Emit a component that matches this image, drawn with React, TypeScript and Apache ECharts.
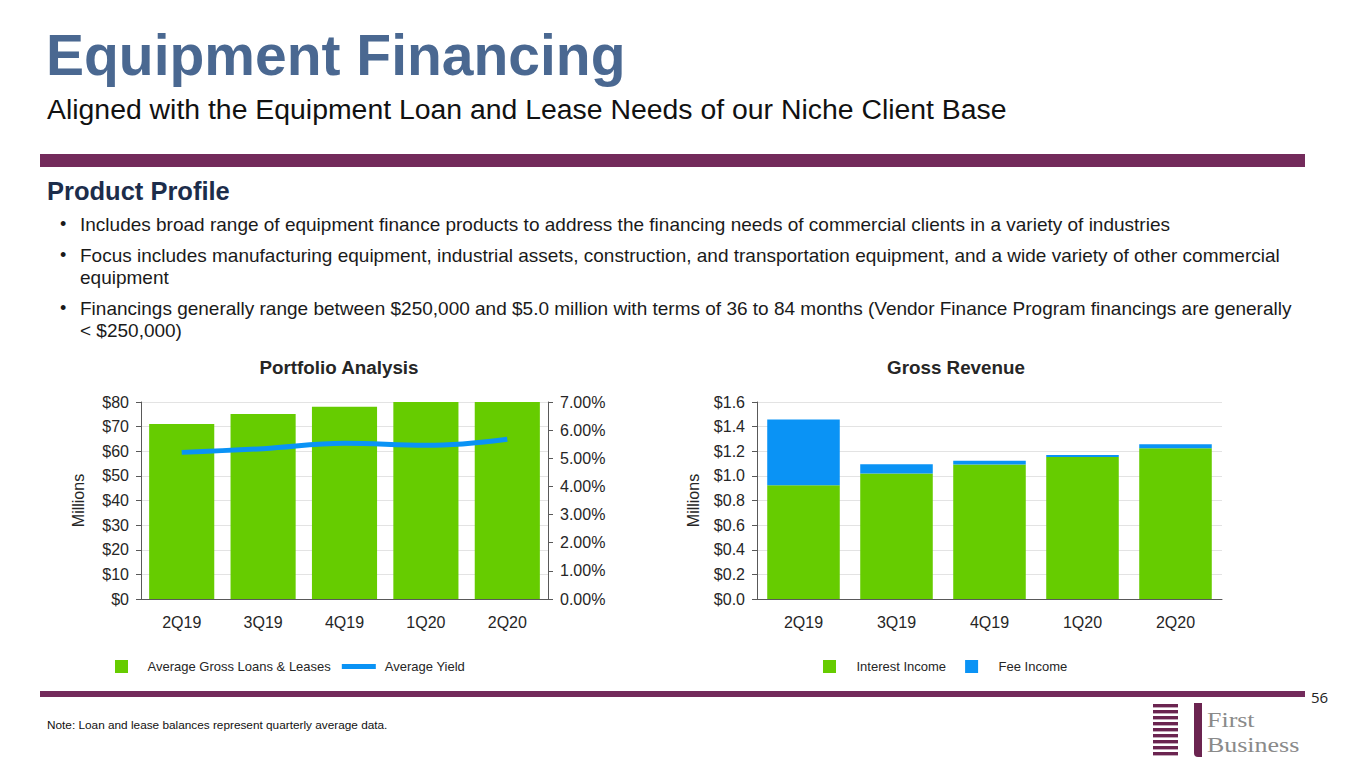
import React, { useEffect, useRef } from "react";
import * as echarts from "echarts";

// ---- data ----
const quarters = ["2Q19", "3Q19", "4Q19", "1Q20", "2Q20"];
const avgLoans = [71.1, 75.1, 78.1, 84.0, 86.0]; // $ millions (last two exceed axis max)
const avgYield = [5.21, 5.34, 5.53, 5.46, 5.68]; // %
const interestIncome = [0.924, 1.019, 1.092, 1.154, 1.224]; // $ millions
const feeIncome = [0.533, 0.076, 0.03, 0.016, 0.033]; // $ millions

const loanAxis = { min: 0, max: 80, interval: 10 };
const yieldAxis = { min: 0, max: 7, interval: 1 };
const revenueAxis = { min: 0, max: 1.6, interval: 0.2 };

const title = "Equipment Financing";
const subtitle = "Aligned with the Equipment Loan and Lease Needs of our Niche Client Base";
const sectionTitle = "Product Profile";
const bulletLines = [
  { bullet: true, text: "Includes broad range of equipment finance products to address the financing needs of commercial clients in a variety of industries" },
  { bullet: true, text: "Focus includes manufacturing equipment, industrial assets, construction, and transportation equipment, and a wide variety of other commercial" },
  { bullet: false, text: "equipment" },
  { bullet: true, text: "Financings generally range between $250,000 and $5.0 million with terms of 36 to 84 months (Vendor Finance Program financings are generally" },
  { bullet: false, text: "< $250,000)" },
];
const note = "Note: Loan and lease balances represent quarterly average data.";
const pageNumber = "56";

const GREEN = "#66cc00";
const BLUE = "#0a93f5";
const PURPLE = "#732a5b";
const FONT = "'Liberation Sans', Arial, sans-serif";
const TXT = "#262626";

export default function App() {
  const ref = useRef<HTMLDivElement>(null);

  useEffect(() => {
    if (!ref.current) return;
    const chart = echarts.init(ref.current, undefined, { renderer: "svg" });

    const bulletY = [224, 255, 277, 308, 330];
    const bulletGraphics: any[] = [];
    bulletLines.forEach((b, i) => {
      if (b.bullet) {
        bulletGraphics.push({
          type: "text",
          x: 60,
          y: bulletY[i],
          style: { text: "•", font: `18px ${FONT}`, fill: "#1a1a1a", textVerticalAlign: "middle", verticalAlign: "middle" },
        });
      }
      bulletGraphics.push({
        type: "text",
        x: 80,
        y: bulletY[i],
        style: { text: b.text, font: `19px ${FONT}`, fill: "#1a1a1a", textVerticalAlign: "middle", verticalAlign: "middle" },
      });
    });

    const logoBars: any[] = [];
    for (let i = 0; i < 9; i++) {
      logoBars.push({
        type: "rect",
        shape: { x: 1153, y: 704 + i * 6, width: 25, height: 3.4 },
        style: { fill: "#6b2450" },
      });
    }

    const axisLineStyle = { lineStyle: { color: "#595959", width: 1 } };
    const axisLabelBase = { fontSize: 16, color: TXT, fontFamily: FONT };

    const midText = (x: number, y: number, text: string, font: string, fill: string, align = "left") => ({
      type: "text",
      x,
      y,
      style: { text, font, fill, textAlign: align, align, textVerticalAlign: "middle", verticalAlign: "middle" },
    });

    const option: any = {
      animation: false,
      backgroundColor: "#ffffff",
      textStyle: { fontFamily: FONT },
      graphic: [
        midText(46, 55, title, `bold 57px ${FONT}`, "#4a6891"),
        midText(47, 109, subtitle, `28.4px ${FONT}`, "#111111"),
        { type: "rect", shape: { x: 40, y: 154, width: 1265, height: 13 }, style: { fill: PURPLE } },
        midText(47, 191, sectionTitle, `bold 25.5px ${FONT}`, "#1c2d4b"),
        ...bulletGraphics,
        midText(339, 367, "Portfolio Analysis", `bold 18.8px ${FONT}`, TXT, "center"),
        midText(956, 367, "Gross Revenue", `bold 18.8px ${FONT}`, TXT, "center"),
        { type: "rect", shape: { x: 40, y: 691, width: 1265, height: 6 }, style: { fill: PURPLE } },
        midText(1311, 697, pageNumber, `15px 'Open Sans', sans-serif`, "#222222"),
        midText(47, 725, note, `11.8px ${FONT}`, "#111111"),
        ...logoBars,
        { type: "rect", shape: { x: 1194, y: 703, width: 8, height: 54, r: [0, 0, 0, 4] }, style: { fill: "#6b2450" } },
        { ...midText(1207, 720, "First", `22px 'Liberation Serif', serif`, "#8a8a8a"), scaleX: 1.18 },
        { ...midText(1207, 745, "Business", `22px 'Liberation Serif', serif`, "#8a8a8a"), scaleX: 1.18 },
      ],
      grid: [
        { left: 141, top: 402, width: 407, height: 197 },
        { left: 757, top: 402, width: 465, height: 197 },
      ],
      legend: [
        {
          left: 110,
          top: 655,
          itemWidth: 34,
          itemHeight: 13,
          itemGap: 11,
          textStyle: { fontSize: 13, color: TXT, fontFamily: FONT, padding: [0, 0, 0, 4] },
          data: [
            { name: "Average Gross Loans & Leases", icon: "path://M0,0H10V10H0Z" },
            { name: "Average Yield", icon: "path://M0,0H34V5H0Z" },
          ],
        },
        {
          left: 818,
          top: 655,
          itemWidth: 34,
          itemHeight: 13,
          itemGap: 19,
          textStyle: { fontSize: 13, color: TXT, fontFamily: FONT, padding: [0, 0, 0, 5] },
          data: [
            { name: "Interest Income", icon: "path://M0,0H10V10H0Z" },
            { name: "Fee Income", icon: "path://M0,0H10V10H0Z" },
          ],
        },
      ],
      xAxis: [
        {
          type: "category",
          gridIndex: 0,
          data: quarters,
          axisLine: axisLineStyle,
          axisTick: { alignWithLabel: true, length: 5, lineStyle: { color: "#595959" } },
          axisLabel: { ...axisLabelBase, margin: 15 },
        },
        {
          type: "category",
          gridIndex: 1,
          data: quarters,
          axisLine: axisLineStyle,
          axisTick: { alignWithLabel: true, length: 5, lineStyle: { color: "#595959" } },
          axisLabel: { ...axisLabelBase, margin: 15 },
        },
      ],
      yAxis: [
        {
          type: "value",
          gridIndex: 0,
          ...loanAxis,
          name: "Millions",
          nameLocation: "middle",
          nameRotate: 90,
          nameGap: 55,
          nameTextStyle: { fontSize: 16, color: TXT, fontFamily: FONT },
          axisLine: { show: true, ...axisLineStyle },
          axisTick: { show: true, length: 5, lineStyle: { color: "#595959" } },
          axisLabel: { ...axisLabelBase, margin: 12, formatter: (v: number) => `$${v}` },
          splitLine: { lineStyle: { color: "#e3e3e3" } },
        },
        {
          type: "value",
          gridIndex: 0,
          position: "right",
          ...yieldAxis,
          axisLine: { show: true, ...axisLineStyle },
          axisTick: { show: true, length: 5, lineStyle: { color: "#595959" } },
          axisLabel: { ...axisLabelBase, margin: 12, formatter: (v: number) => `${v.toFixed(2)}%` },
          splitLine: { show: false },
        },
        {
          type: "value",
          gridIndex: 1,
          ...revenueAxis,
          name: "Millions",
          nameLocation: "middle",
          nameRotate: 90,
          nameGap: 56,
          nameTextStyle: { fontSize: 16, color: TXT, fontFamily: FONT },
          axisLine: { show: true, ...axisLineStyle },
          axisTick: { show: true, length: 5, lineStyle: { color: "#595959" } },
          axisLabel: { ...axisLabelBase, margin: 12, formatter: (v: number) => `$${v.toFixed(1)}` },
          splitLine: { lineStyle: { color: "#e3e3e3" } },
        },
      ],
      series: [
        {
          name: "Average Gross Loans & Leases",
          type: "bar",
          xAxisIndex: 0,
          yAxisIndex: 0,
          data: avgLoans,
          barCategoryGap: "20%",
          itemStyle: { color: GREEN },
          clip: true,
        },
        {
          name: "Average Yield",
          type: "line",
          xAxisIndex: 0,
          yAxisIndex: 1,
          data: avgYield,
          smooth: 0.4,
          showSymbol: false,
          symbol: "none",
          itemStyle: { color: BLUE },
          lineStyle: { color: BLUE, width: 5 },
          z: 5,
        },
        {
          name: "Interest Income",
          type: "bar",
          xAxisIndex: 1,
          yAxisIndex: 2,
          stack: "revenue",
          data: interestIncome,
          barCategoryGap: "22%",
          itemStyle: { color: GREEN },
        },
        {
          name: "Fee Income",
          type: "bar",
          xAxisIndex: 1,
          yAxisIndex: 2,
          stack: "revenue",
          data: feeIncome,
          barCategoryGap: "22%",
          itemStyle: { color: BLUE },
        },
      ],
    };

    chart.setOption(option);
    return () => chart.dispose();
  }, []);

  return (
    <div
      ref={ref}
      style={{ position: "fixed", left: 0, top: 0, width: 1365, height: 768, background: "#fff" }}
    />
  );
}
